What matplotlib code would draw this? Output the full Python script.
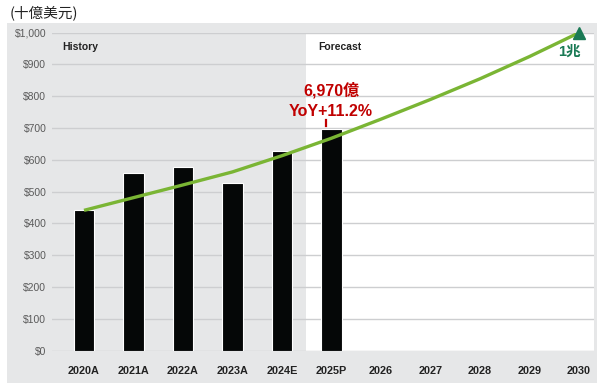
import matplotlib
matplotlib.use("Agg")
import matplotlib.pyplot as plt
from matplotlib.patches import Rectangle

plt.rcParams['font.family'] = ['Liberation Sans', 'DejaVu Sans']

years = ["2020A", "2021A", "2022A", "2023A", "2024E", "2025P",
         "2026", "2027", "2028", "2029", "2030"]
bar_values = [441, 557, 576, 528, 628, 697]
trend_values = [441, 481, 521, 562, 613, 668, 728, 790, 855, 925, 1000]
y_ticks = [0, 100, 200, 300, 400, 500, 600, 700, 800, 900, 1000]
y_labels = ["$0", "$100", "$200", "$300", "$400", "$500", "$600", "$700",
            "$800", "$900", "$1,000"]

W, H = 601, 383
fig = plt.figure(figsize=(W / 100, H / 100), dpi=100)
fig.patch.set_facecolor("white")

# gray panel behind everything
fig.patches.append(Rectangle((7 / W, 0), (597 - 7) / W, (383 - 23) / H,
                             transform=fig.transFigure, facecolor="#e6e7e8",
                             edgecolor="none", zorder=-5))

ax = fig.add_axes([52 / W, (383 - 350.5) / H, (594 - 52) / W, (350.5 - 32.7) / H])
ax.set_zorder(2)
ax.set_facecolor("#e6e7e8")
x = list(range(len(years)))
x0, step = 84, 49.5
ax.set_xlim((52 - x0) / step, (594 - x0) / step)
ax.set_ylim(0, 1000)

# forecast white region
ax.axvspan((306 - x0) / step, (594 - x0) / step, color="white", zorder=0.5, lw=0)

for yt in y_ticks:
    ax.axhline(yt, color="#cdced0", lw=1.0, zorder=1)

ax.bar(x[:len(bar_values)], bar_values, width=0.41, color="#050707",
       edgecolor="white", linewidth=0.8, zorder=3)
ax.plot(x, trend_values, color="#7ab534", lw=2.4, zorder=4,
        solid_capstyle="butt", solid_joinstyle="round")
ax.plot([x[-1]], [trend_values[-1]], marker="^", color="#1a7a55",
        markersize=8, zorder=5, clip_on=False)

for s in ax.spines.values():
    s.set_visible(False)
ax.set_yticks(y_ticks)
ax.set_yticklabels(y_labels, color="#5a5a5a", fontsize=7.5)
ax.set_xticks(x)
ax.set_xticklabels(years, fontsize=7.8, fontweight="bold", color="#222222")
ax.tick_params(axis="both", length=0)
ax.tick_params(axis="y", pad=4)
ax.tick_params(axis="x", pad=11)

ax.text(-0.44, 955, "History", fontsize=7.5, fontweight="bold", color="#222222",
        va="center", ha="left")
ax.text(4.73, 955, "Forecast", fontsize=7.5, fontweight="bold", color="#222222",
        va="center", ha="left")

red_font = ["Liberation Sans", "Noto Sans CJK JP", "DejaVu Sans"]
ax.text(5.0, 820, "6,970億", fontsize=11.5, fontweight="bold", color="#c00000",
        ha="center", va="center", family=red_font)
ax.text(4.98, 752, "YoY+11.2%", fontsize=11.5, fontweight="bold", color="#c00000",
        ha="center", va="center", family=red_font)
ax.plot([4.89, 4.89], [706, 725], color="#c00000", lw=1.6, zorder=5)

ax.text(x[-1] - 0.2, 940, "1兆", fontsize=10.5, fontweight="bold",
        color="#1a7a55", ha="center", va="center",
        family=["Liberation Sans", "Noto Sans CJK JP", "DejaVu Sans"])

fig.text(10 / W, 1 - 13 / H, "(十億美元)", fontsize=10.5, color="#222222",
         ha="left", va="center", family=["Noto Sans CJK JP", "DejaVu Sans"])

fig.savefig("out.png", dpi=100)
